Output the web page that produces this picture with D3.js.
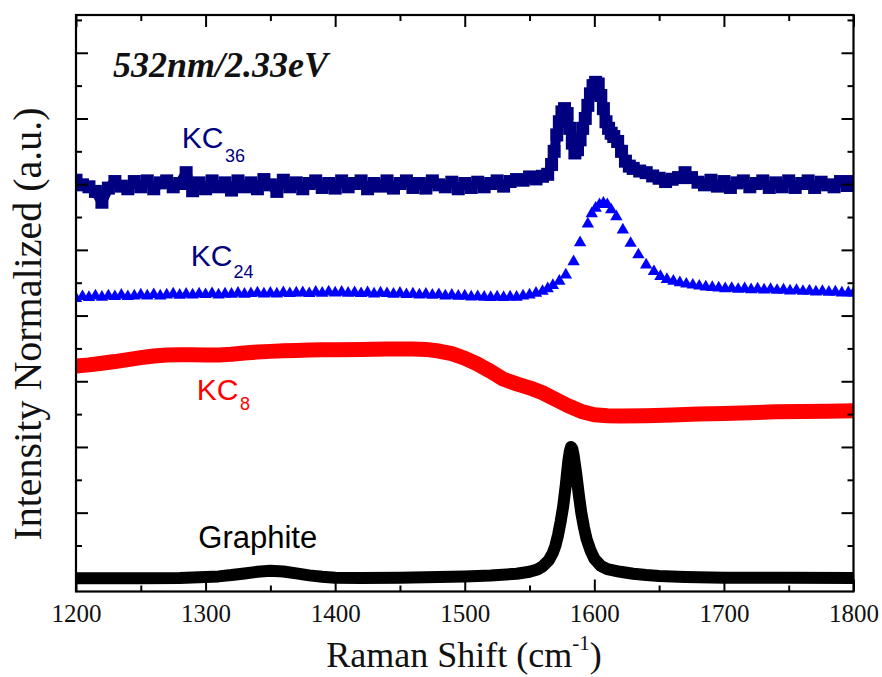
<!DOCTYPE html>
<html><head><meta charset="utf-8">
<script src="https://cdn.jsdelivr.net/npm/d3@7/dist/d3.min.js"></script>
<style>body{margin:0;background:#fff} .xt text{font-family:'Liberation Serif','Times New Roman',serif !important;}</style>
</head><body><svg id="c" width="882" height="677"></svg>
<script>
// ---------- data (Raman shift in cm^-1, normalized intensity in offset units) ----------
const xMajorTicks = [1200,1300,1400,1500,1600,1700,1800];
const xMinorTicks = [1250,1350,1450,1550,1650,1750];
const yMajorTicks = [0,2,4,6,8,10,12,14,16];
const yMinorTicks = [1,3,5,7,9,11,13,15,17];
const titleText = "532nm/2.33eV";
const seriesNames = ["Graphite","KC8","KC24","KC36"];

const graphite = [[1200,0.0],[1230,0.0],[1250,0.0],[1280,0.01],[1300,0.04],[1310,0.06],[1320,0.1],[1330,0.15],[1340,0.2],[1350,0.23],[1360,0.21],[1370,0.15],[1380,0.09],[1390,0.05],[1400,0.02],[1420,0.01],[1450,0.02],[1480,0.04],[1500,0.06],[1520,0.09],[1540,0.14],[1550,0.2],[1556,0.27],[1560,0.36],[1565,0.56],[1568,0.78],[1570,1.0],[1572,1.32],[1574,1.73],[1576,2.2],[1578,2.85],[1580,3.6],[1581,3.85],[1582,4.0],[1583,3.95],[1584,3.75],[1586,3.2],[1588,2.55],[1590,1.98],[1592,1.55],[1594,1.2],[1597,0.85],[1600,0.6],[1605,0.38],[1610,0.28],[1620,0.2],[1630,0.14],[1640,0.1],[1650,0.07],[1670,0.04],[1700,0.02],[1750,0.02],[1800,0.01]];

const kc8 = [[1200,6.46],[1210,6.5],[1220,6.55],[1230,6.6],[1240,6.66],[1250,6.72],[1260,6.77],[1270,6.8],[1280,6.81],[1290,6.81],[1300,6.8],[1310,6.8],[1320,6.82],[1330,6.86],[1340,6.89],[1350,6.91],[1360,6.93],[1370,6.94],[1380,6.95],[1390,6.96],[1400,6.96],[1420,6.97],[1440,6.98],[1460,6.98],[1470,6.97],[1480,6.92],[1490,6.84],[1500,6.7],[1510,6.52],[1520,6.3],[1530,6.06],[1540,5.92],[1550,5.8],[1560,5.65],[1570,5.45],[1580,5.25],[1590,5.08],[1600,4.98],[1610,4.95],[1620,4.94],[1640,4.95],[1660,4.97],[1680,5.0],[1700,5.02],[1720,5.04],[1740,5.07],[1760,5.08],[1780,5.09],[1800,5.1]];

const kc24 = [[1200,8.52],[1205,8.58],[1210,8.55],[1215,8.6],[1220,8.56],[1225,8.6],[1230,8.58],[1235,8.62],[1240,8.58],[1245,8.6],[1250,8.63],[1255,8.6],[1260,8.64],[1265,8.6],[1270,8.63],[1275,8.66],[1280,8.62],[1285,8.65],[1290,8.63],[1295,8.66],[1300,8.64],[1305,8.67],[1310,8.63],[1315,8.66],[1320,8.65],[1325,8.68],[1330,8.65],[1335,8.67],[1340,8.69],[1345,8.66],[1350,8.68],[1355,8.66],[1360,8.7],[1365,8.67],[1370,8.69],[1375,8.7],[1380,8.67],[1385,8.71],[1390,8.68],[1395,8.72],[1400,8.69],[1405,8.71],[1410,8.68],[1415,8.7],[1420,8.67],[1425,8.7],[1430,8.66],[1435,8.69],[1440,8.67],[1445,8.65],[1450,8.68],[1455,8.64],[1460,8.66],[1465,8.63],[1470,8.65],[1475,8.62],[1480,8.64],[1485,8.6],[1490,8.62],[1495,8.59],[1500,8.6],[1505,8.57],[1510,8.58],[1515,8.56],[1520,8.55],[1525,8.57],[1530,8.55],[1535,8.57],[1540,8.56],[1545,8.6],[1550,8.63],[1555,8.68],[1560,8.74],[1564,8.82],[1568,8.92],[1573,9.05],[1578,9.24],[1584,9.64],[1589,10.22],[1595,10.79],[1598,11.1],[1601,11.27],[1604,11.38],[1607,11.42],[1610,11.38],[1613,11.22],[1617,11.01],[1622,10.61],[1628,10.2],[1634,9.85],[1640,9.54],[1646,9.34],[1651,9.19],[1656,9.1],[1661,9.05],[1666,9.0],[1671,8.96],[1676,8.93],[1681,8.9],[1686,8.87],[1691,8.86],[1696,8.84],[1701,8.82],[1706,8.83],[1711,8.8],[1716,8.82],[1721,8.79],[1726,8.81],[1731,8.78],[1736,8.8],[1741,8.77],[1746,8.78],[1751,8.75],[1756,8.77],[1761,8.74],[1766,8.75],[1771,8.72],[1776,8.74],[1781,8.71],[1786,8.72],[1791,8.69],[1796,8.7],[1800,8.68]];

const kc36 = [[1200,12.12],[1205,11.98],[1210,11.92],[1215,11.78],[1220,11.45],[1225,11.88],[1230,12.08],[1235,11.94],[1240,11.86],[1245,12.08],[1250,11.92],[1255,12.1],[1260,11.86],[1265,12.04],[1270,12.1],[1275,11.92],[1280,12.02],[1285,12.35],[1290,11.8],[1295,12.04],[1300,11.86],[1305,12.1],[1310,11.92],[1315,12.04],[1320,11.82],[1325,12.1],[1330,11.92],[1335,12.04],[1340,11.86],[1345,12.14],[1350,11.98],[1355,11.78],[1360,12.12],[1365,11.92],[1370,12.04],[1375,11.86],[1380,12.02],[1385,12.1],[1390,11.9],[1395,12.02],[1400,11.88],[1405,12.1],[1410,11.92],[1415,12.02],[1420,12.1],[1425,11.86],[1430,12.02],[1435,11.94],[1440,12.1],[1445,11.88],[1450,12.02],[1455,12.1],[1460,11.9],[1465,12.02],[1470,11.88],[1475,12.1],[1480,11.98],[1485,11.92],[1490,12.06],[1495,11.86],[1500,12.02],[1505,11.9],[1510,12.06],[1515,11.92],[1520,12.02],[1525,12.1],[1530,11.94],[1535,12.08],[1540,12.14],[1545,12.12],[1550,12.22],[1555,12.16],[1560,12.24],[1564,12.3],[1567,12.6],[1569,13.0],[1571,13.5],[1573,13.9],[1575,14.2],[1577,14.3],[1579,14.15],[1581,13.7],[1583,13.25],[1585,12.95],[1587,13.05],[1589,13.35],[1591,13.7],[1593,14.0],[1595,14.4],[1597,14.75],[1599,15.0],[1601,15.1],[1603,15.05],[1605,14.7],[1607,14.3],[1609,13.9],[1611,13.7],[1613,13.55],[1615,13.45],[1618,13.3],[1621,13.0],[1624,12.7],[1627,12.55],[1630,12.48],[1635,12.4],[1640,12.35],[1645,12.25],[1650,12.18],[1655,12.08],[1660,12.15],[1665,12.2],[1670,12.35],[1675,12.2],[1680,12.06],[1685,11.98],[1690,12.12],[1695,11.94],[1700,12.08],[1705,11.9],[1710,12.04],[1715,12.1],[1720,11.92],[1725,12.02],[1730,12.1],[1735,11.9],[1740,12.04],[1745,11.92],[1750,12.1],[1755,11.9],[1760,12.02],[1765,12.1],[1770,11.9],[1775,12.06],[1780,11.98],[1785,11.92],[1790,12.08],[1795,11.96],[1800,12.08]];

// ---------- drawing ----------
const svg = d3.select("#c");
const L = 76, R = 853.5, T = 15, B = 591.5;
const x = d3.scaleLinear().domain([1200,1800]).range([L,R]);
const y = d3.scaleLinear().domain([-0.4,17.15]).range([B,T]);

svg.append("rect").attr("width",882).attr("height",677).attr("fill","#fff");
svg.append("defs").append("clipPath").attr("id","clip")
  .append("rect").attr("x",L).attr("y",T).attr("width",R-L).attr("height",B-T);
const plot = svg.append("g").attr("clip-path","url(#clip)");

const line = d3.line().x(d=>x(d[0])).y(d=>y(d[1])).curve(d3.curveLinear);

// Graphite: dense black squares -> thick band
plot.append("path").datum(graphite).attr("d",line)
  .attr("fill","none").attr("stroke","#000").attr("stroke-width",12)
  .attr("stroke-linejoin","round");

// KC8: dense red points -> thick band
plot.append("path").datum(kc8).attr("d",line)
  .attr("fill","none").attr("stroke","#ff0000").attr("stroke-width",15)
  .attr("stroke-linejoin","round");

// KC24: blue triangles
plot.append("g").selectAll("path").data(kc24).join("path")
  .attr("transform",d=>`translate(${x(d[0])},${y(d[1])})`)
  .attr("d",d3.symbol(d3.symbolTriangle,66))
  .attr("fill","#0000ff");

// KC36: navy squares
plot.append("path").datum(kc36).attr("d",line)
  .attr("fill","none").attr("stroke","#000080").attr("stroke-width",10)
  .attr("stroke-linejoin","round");
plot.append("g").selectAll("rect").data(kc36).join("rect")
  .attr("x",d=>x(d[0])-6.5).attr("y",d=>y(d[1])-6.5)
  .attr("width",13).attr("height",13).attr("fill","#000080");

// axes
const serif = "'Liberation Serif','Times New Roman',serif";
const sans = "'Liberation Sans',Arial,sans-serif";
function styleAxis(g){ g.select(".domain").remove(); g.selectAll("line").attr("stroke","#000").attr("stroke-width",2); }
svg.append("g").attr("class","xt").attr("transform",`translate(0,${B})`)
  .call(d3.axisBottom(x).tickValues(xMajorTicks).tickSize(-12).tickPadding(13).tickFormat(d3.format("d")))
  .call(styleAxis)
  .call(g=>g.attr("font-family",serif).attr("font-size",25))
  .call(g=>g.selectAll("text").attr("font-family",serif).attr("font-size",25).attr("fill","#111"));
svg.append("g").attr("transform",`translate(0,${B})`)
  .call(d3.axisBottom(x).tickValues(xMinorTicks).tickSize(-6).tickFormat("")).call(styleAxis);
svg.append("g").attr("transform",`translate(0,${T})`)
  .call(d3.axisTop(x).tickValues(xMajorTicks).tickSize(-12).tickFormat("")).call(styleAxis);
svg.append("g").attr("transform",`translate(0,${T})`)
  .call(d3.axisTop(x).tickValues(xMinorTicks).tickSize(-6).tickFormat("")).call(styleAxis);
svg.append("g").attr("transform",`translate(${L},0)`)
  .call(d3.axisLeft(y).tickValues(yMajorTicks).tickSize(-12).tickFormat("")).call(styleAxis);
svg.append("g").attr("transform",`translate(${L},0)`)
  .call(d3.axisLeft(y).tickValues(yMinorTicks).tickSize(-6).tickFormat("")).call(styleAxis);
svg.append("g").attr("transform",`translate(${R},0)`)
  .call(d3.axisRight(y).tickValues(yMajorTicks).tickSize(-12).tickFormat("")).call(styleAxis);
svg.append("g").attr("transform",`translate(${R},0)`)
  .call(d3.axisRight(y).tickValues(yMinorTicks).tickSize(-6).tickFormat("")).call(styleAxis);

svg.append("rect").attr("x",L).attr("y",T).attr("width",R-L).attr("height",B-T)
  .attr("fill","none").attr("stroke","#000").attr("stroke-width",2.2);

// axis titles
const xl = svg.append("text").attr("x",464).attr("y",667).attr("text-anchor","middle")
  .attr("font-family",serif).attr("font-size",36).attr("fill","#111");
xl.append("tspan").text("Raman Shift (cm");
xl.append("tspan").attr("font-size",21).attr("dy",-17).text("-1");
xl.append("tspan").attr("dy",17).text(")");

svg.append("text").attr("transform","translate(41,324) rotate(-90)").attr("text-anchor","middle")
  .attr("font-family",serif).attr("font-size",40).attr("fill","#111")
  .text("Intensity Normalized (a.u.)");

// title
svg.append("text").attr("x",113).attr("y",77).attr("font-family",serif)
  .attr("font-size",36).attr("font-weight","bold").attr("font-style","italic").attr("fill","#111")
  .text(titleText);

// series labels
function label(main, sub, x0, y0, xs, ys, color, fs){
  svg.append("text").attr("x",x0).attr("y",y0).attr("font-family",sans).attr("font-size",fs||30)
    .attr("fill",color).text(main);
  if(sub) svg.append("text").attr("x",xs).attr("y",ys).attr("font-family",sans).attr("font-size",18)
    .attr("fill",color).text(sub);
}
label("KC","36",181.7,148.3,225,161.7,"#000080");
label("KC","24",190.7,265.5,233.5,278.3,"#000080");
label("KC","8",196.7,400,240,410,"#ff0000");
label(seriesNames[0],null,198.3,548,0,0,"#000",31);
</script></body></html>
